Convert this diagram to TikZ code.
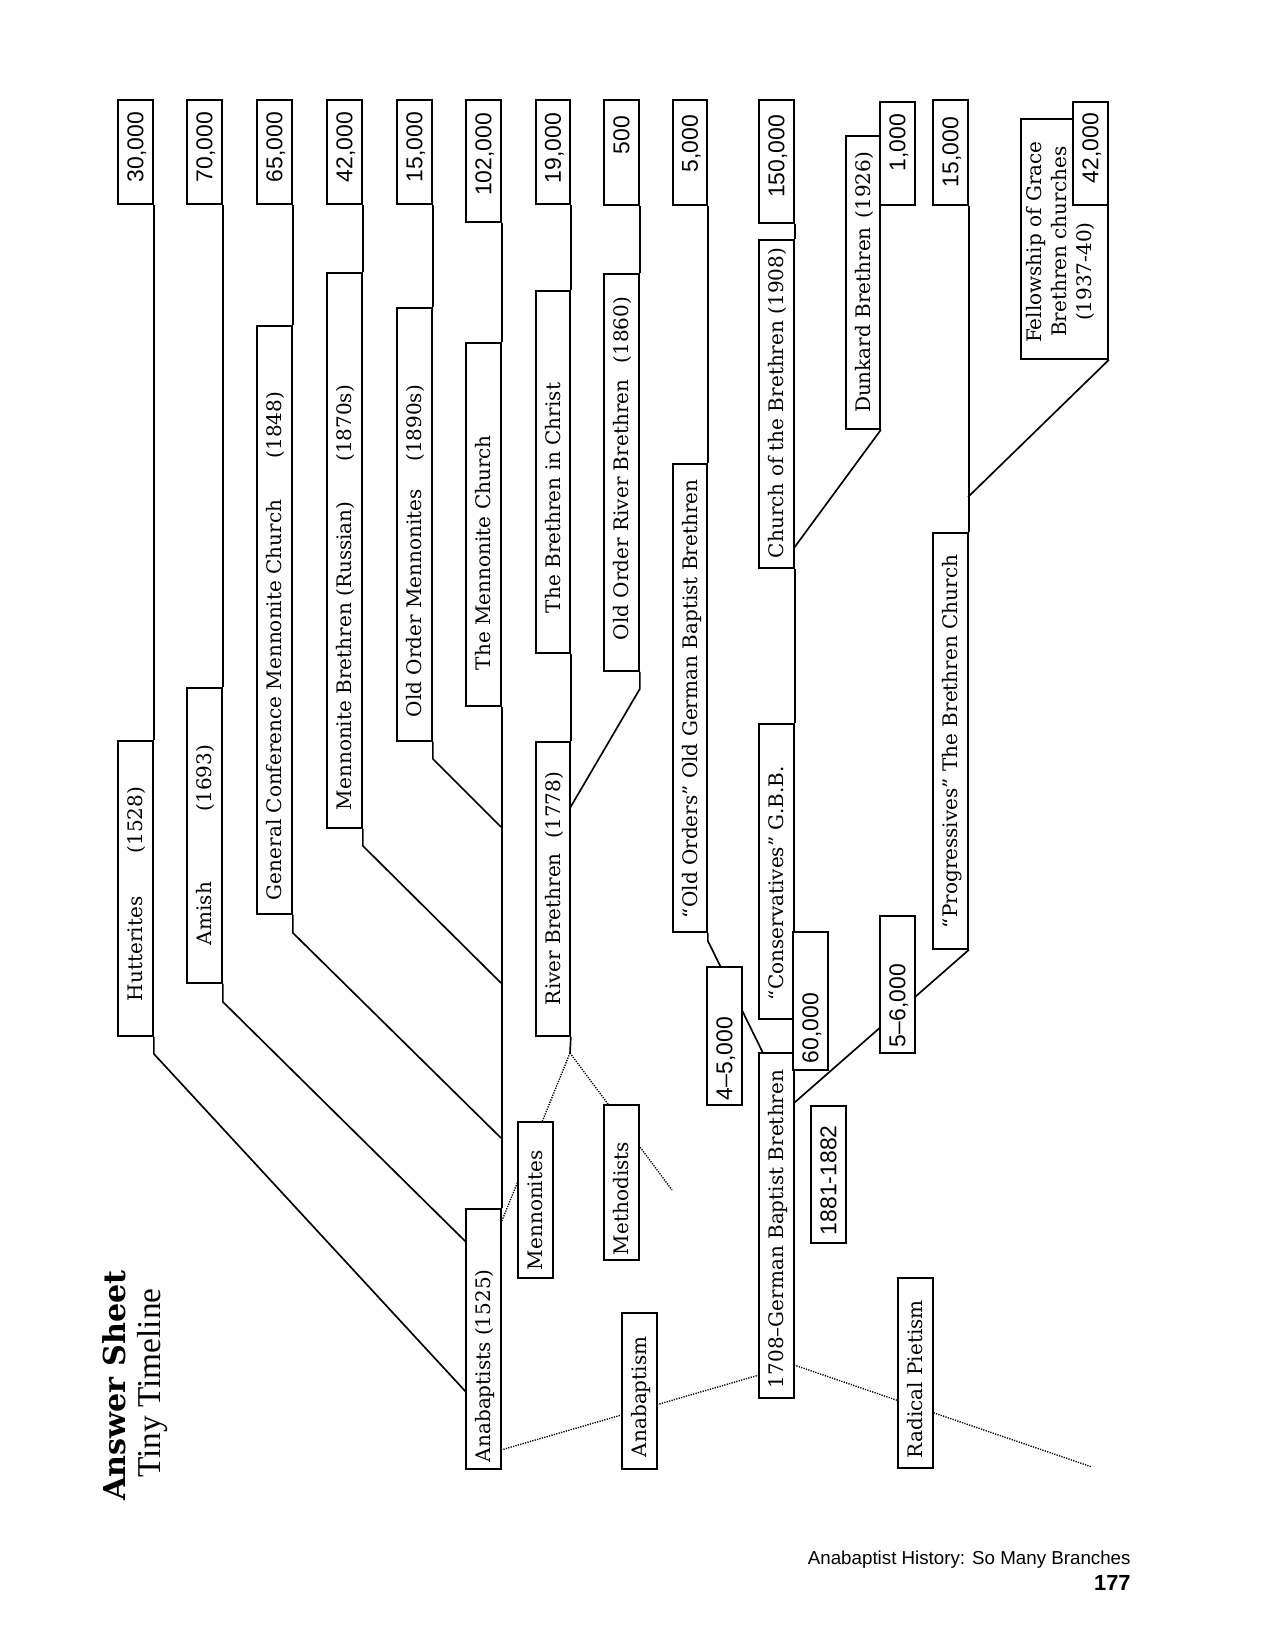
\documentclass[tikz,border=0pt]{standalone}
\usepackage{fontspec}
\setmainfont{DejaVu Serif}
\newfontfamily\numfont{Liberation Sans}
\newfontfamily\tmfont{Liberation Serif}
\usepackage{graphicx}
\usetikzlibrary{backgrounds,calc}
\newdimen\pxu \pxu=0.48pt
\tikzset{
  box/.style={draw, fill=white, inner sep=0pt, line width=0.8pt, font=\fontsize{9.6}{11.5}\selectfont},
  nbox/.style={box, font=\numfont\fontsize{11}{13}\selectfont},
  conn/.style={line width=0.8pt},
  dots/.style={line width=0.65pt, dash pattern=on 0.6pt off 0.6pt}
}
% #1 style, #2 name, #3 x1, #4 y1, #5 x2, #6 y2, #7 bottom pad, #8 top pad, #9 text
\newcommand\tlbox[9][box]{%
  \node[#1, minimum width={(#5-#3)*\pxu}, minimum height={(#6-#4)*\pxu}] (#2) at ({(#3+#5)/2},{(#4+#6)/2})
  {\rotatebox{90}{\raisebox{0pt}[\fontcharht\font`H][0pt]{\hbox to \dimexpr\pxu*(#6-#4)\relax{\hspace*{\dimexpr\pxu*#7\relax}#9\hspace*{\dimexpr\pxu*#8\relax}}}}};}
\begin{document}
\begin{tikzpicture}[x=0.48pt,y=-0.48pt]
\useasboundingbox (0,0) rectangle (1275,1650);
% value boxes (top row)
\tlbox[nbox]{v30}{118}{100}{153}{204}{0}{12}{\hfill30,000}
\tlbox[nbox]{v70}{187}{100}{222}{204}{0}{12}{\hfill70,000}
\tlbox[nbox]{v65}{257}{100}{292}{204}{0}{12}{\hfill65,000}
\tlbox[nbox]{v42}{327}{100}{362}{204}{0}{12}{\hfill42,000}
\tlbox[nbox]{v15a}{397}{100}{432}{204}{0}{12}{\hfill15,000}
\tlbox[nbox]{v102}{466}{100}{501}{222}{0}{13}{\hfill102,000}
\tlbox[nbox]{v19}{536}{100}{570}{204}{0}{13}{\hfill19,000}
\tlbox[nbox]{v500}{604}{100}{639}{205}{0}{16}{\hfill500}
\tlbox[nbox]{v5000}{673}{100}{707}{205}{0}{15}{\hfill5,000}
\tlbox[nbox]{v150}{759}{100}{794}{223}{0}{15}{\hfill150,000}
\tlbox[nbox]{v1000}{880}{102}{915}{205}{0}{12}{\hfill1,000}
\tlbox[nbox]{v15b}{933}{100}{968}{205}{0}{17}{\hfill15,000}
% name boxes
\tlbox{hut}{118}{741}{153}{1036}{35}{46}{Hutterites\hfill(1528)}
\tlbox{amish}{187}{688}{222}{983}{38}{57}{Amish\hfill(1693)}
\tlbox{gc}{257}{326}{292}{914}{14}{66}{General Conference Mennonite Church\hfill(1848)}
\tlbox{mb}{327}{273}{362}{828}{18}{112}{Mennonite Brethren (Russian)\hfill(1870s)}
\tlbox{oom}{397}{308}{432}{741}{24}{77}{Old Order Mennonites\hfill(1890s)}
\tlbox{tmc}{466}{343}{501}{706}{36}{0}{The Mennonite Church\hfill}
\tlbox{bic}{536}{291}{570}{653}{40}{0}{The Brethren in Christ\hfill}
\tlbox{oorb}{604}{274}{639}{671}{31}{23}{Old Order River Brethren\hfill(1860)}
\tlbox{oogbb}{673}{464}{707}{932}{14}{0}{“Old Orders” Old German Baptist Brethren\hfill}
\tlbox{cob}{759}{240}{794}{568}{10}{0}{Church of the Brethren (1908)\hfill}
\tlbox{dunk}{846}{136}{880}{429}{16}{16}{Dunkard Brethren\hfill(1926)}
\tlbox{cons}{759}{724}{794}{1019}{19}{0}{“Conservatives” G.B.B.\hfill}
\tlbox{prog}{933}{533}{968}{949}{21}{0}{“Progressives” The Brethren Church\hfill}
\tlbox{rb}{536}{742}{570}{1036}{31}{30}{River Brethren\hfill(1778)}
\tlbox{anab}{466}{1209}{501}{1469}{7}{0}{Anabaptists (1525)\hfill}
\tlbox{menn}{518}{1122}{553}{1278}{8}{0}{Mennonites\hfill}
\tlbox{meth}{604}{1105}{639}{1260}{5}{0}{Methodists\hfill}
\tlbox{anabm}{622}{1313}{657}{1469}{12}{0}{Anabaptism\hfill}
\tlbox{gbb}{759}{1053}{794}{1398}{10}{0}{1708–German Baptist Brethren\hfill}
\tlbox{rp}{898}{1278}{933}{1468}{10}{0}{Radical Pietism\hfill}
\tlbox[nbox]{v4500}{707}{967}{742}{1105}{5}{0}{4–5,000\hfill}
\tlbox[nbox]{v60}{793}{932}{828}{1070}{7}{0}{60,000\hfill}
\tlbox[nbox]{v5600}{880}{916}{915}{1053}{6}{0}{5–6,000\hfill}
\tlbox[nbox]{y1881}{811}{1106}{846}{1243}{8}{0}{1881-1882\hfill}
% Fellowship box
\node[box, minimum width={87*\pxu}, minimum height={240*\pxu}] (fgb) at ({(1021+1108)/2},{(119+359)/2})
  {\rotatebox{90}{\raisebox{0pt}[66\pxu][13\pxu]{\hbox to 240\pxu{\vbox{\baselineskip=25\pxu
    \hbox{\hspace*{16\pxu}Fellowship of Grace}\hbox{\hspace*{22\pxu}Brethren churches}\hbox{\hspace*{38\pxu}(1937-40)}}\hss}}}};
\tlbox[nbox]{v42b}{1073}{102}{1108}{205}{0}{11}{\hfill42,000}
% titles and footer
\node[rotate=90, anchor=base west, font=\bfseries\fontsize{14.5}{17}\selectfont] (title) at (125,1508) {Answer Sheet};
\node[rotate=90, anchor=base west, font=\tmfont\fontsize{16}{19}\selectfont] (subtitle) at (160,1485) {Tiny Timeline};
\node[anchor=base east, inner sep=0pt, font=\numfont\fontsize{9.0}{11}\selectfont] (foot) at (1131,1564) {Anabaptist History: So Many Branches};
\node[anchor=base east, inner sep=0pt, font=\numfont\bfseries\fontsize{10.5}{12}\selectfont] (pagenum) at (1131,1590) {177};
% junction coordinates
\coordinate (jhut) at (466,1392);
\coordinate (jamish) at (466,1242);
\coordinate (jgc) at (501,1138);
\coordinate (jmb) at (501,983);
\coordinate (joom) at (501,827);
\coordinate (joorb) at (570,808);
\coordinate (jdunk) at (794,548);
\coordinate (jfgb) at (968,497);
\coordinate (jold) at (763,1053);
\coordinate (jgbb) at (794,1103);
\coordinate (rbend) at (570,1053);
\coordinate (jmenn) at (501,1223);
\coordinate (methend) at (672,1190);
\coordinate (janab) at (501,1450);
\coordinate (jgbbl) at (759,1375);
\coordinate (jgbbr) at (794,1365);
\coordinate (rpend) at (1092,1467);
\begin{pgfonlayer}{background}
\draw[conn] (v30.south east) -- (hut.north east);
\draw[conn] (v70.south east) -- (amish.north east);
\draw[conn] (v65.south east) -- (gc.north east);
\draw[conn] (v42.south east) -- (mb.north east);
\draw[conn] (v15a.south east) -- (oom.north east);
\draw[conn] (v102.south east) -- (tmc.north east);
\draw[conn] (v19.south east) -- (bic.north east);
\draw[conn] (v500.south east) -- (oorb.north east);
\draw[conn] (v5000.south east) -- (oogbb.north east);
\draw[conn] (v150.south east) -- (cob.north east);
\draw[conn] (v15b.south east) -- (prog.north east);
\draw[conn] (hut.south east) -- ++(0,17) -- (jhut);
\draw[conn] (amish.south east) -- ++(0,18) -- (jamish);
\draw[conn] (gc.south east) -- ++(0,18) -- (jgc);
\draw[conn] (mb.south east) -- ++(0,17) -- (jmb);
\draw[conn] (oom.south east) -- ++(0,17) -- (joom);
\draw[conn] (tmc.south east) -- (anab.north east);
\draw[conn] (bic.south east) -- (rb.north east);
\draw[conn] (oorb.south east) -- ++(0,17) -- (joorb);
\draw[conn] (rb.south east) -- (rbend);
\draw[dots] (rbend) -- (jmenn);
\draw[dots] (rbend) -- (methend);
\draw[conn] (oogbb.south east) -- ++(0,8) -- (jold);
\draw[conn] (cob.south east) -- (cons.north east);
\draw[conn] (cons.south east) -- (gbb.north east);
\draw[conn] (dunk.south east) -- (jdunk);
\draw[conn] (fgb.south east) -- (jfgb);
\draw[conn] (jgbb) -- (prog.south east);
\draw[dots] (janab) -- (jgbbl);
\draw[dots] (jgbbr) -- (rpend);
\end{pgfonlayer}
\end{tikzpicture}
\end{document}
